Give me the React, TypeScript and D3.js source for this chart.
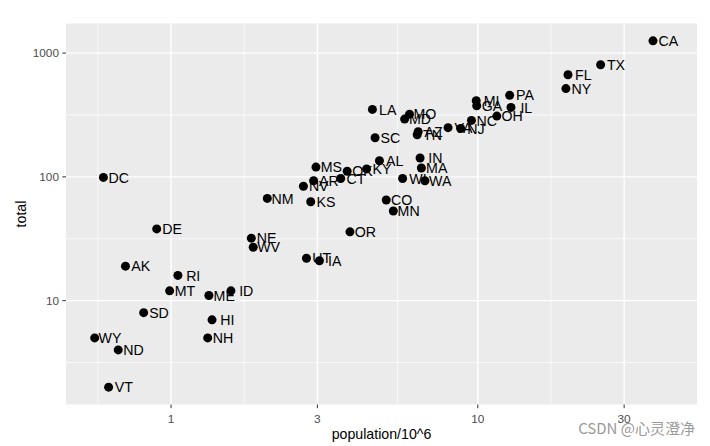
import React from "react";
import * as d3 from "d3";

const abb = ["AL","AK","AZ","AR","CA","CO","CT","DE","DC","FL","GA","HI","ID","IL","IN","IA","KS","KY","LA","ME","MD","MA","MI","MN","MS","MO","MT","NE","NV","NH","NJ","NM","NY","NC","ND","OH","OK","OR","PA","RI","SC","SD","TN","TX","UT","VT","VA","WA","WV","WI","WY"];
const population = [4779736,710231,6392017,2915918,37253956,5029196,3574097,897934,601723,19687653,9920000,1360301,1567582,12830632,6483802,3046355,2853118,4339367,4533372,1328361,5773552,6547629,9883640,5303925,2967297,5988927,989415,1826341,2700551,1316470,8791894,2059179,19378102,9535483,672591,11536504,3751351,3831074,12702379,1052567,4625364,814180,6346105,25145561,2763885,625741,8001024,6724540,1852994,5686986,563626];
const total = [135,19,232,93,1257,65,97,38,99,669,376,7,12,364,142,21,63,116,351,11,293,118,413,53,120,321,12,32,84,5,246,67,517,286,4,310,111,36,457,16,207,8,219,805,22,2,250,93,27,97,5];

const xBreaks = [1, 3, 10, 30];
const yBreaks = [10, 100, 1000];

const W = 710, H = 446;
const L = 66, R = 697, T = 23.5, B = 404.5;
const nudge = 0.05;

export default function App() {
  const px = population.map((p) => p / 1e6);
  const lx = px.map((v) => Math.log10(v));
  const ly = total.map((v) => Math.log10(v));
  const xmin = d3.min(lx)!, xmax = d3.max(lx)! + nudge;
  const xe = (xmax - xmin) * 0.05;
  const ymin = d3.min(ly)!, ymax = d3.max(ly)!;
  const ye = (ymax - ymin) * 0.05;
  const x = d3.scaleLog().domain([Math.pow(10, xmin - xe), Math.pow(10, xmax + xe)]).range([L, R]);
  const y = d3.scaleLog().domain([Math.pow(10, ymin - ye), Math.pow(10, ymax + ye)]).range([B, T]);

  const xl = xBreaks.map((b) => Math.log10(b));
  const xMinor: number[] = [xl[0] - (xl[1] - xl[0]) / 2];
  for (let i = 0; i < xl.length - 1; i++) xMinor.push((xl[i] + xl[i + 1]) / 2);
  const yl = yBreaks.map((b) => Math.log10(b));
  const yMinor: number[] = [yl[0] - 0.5];
  for (let i = 0; i < yl.length - 1; i++) yMinor.push((yl[i] + yl[i + 1]) / 2);

  const font = "'Liberation Sans', Arial, sans-serif";
  return (
    <svg width={W} height={H} style={{ position: "absolute", left: 0, top: 0, background: "#fff" }} fontFamily={font}>
      <rect x={L} y={T} width={R - L} height={B - T} fill="#EBEBEB" />
      {xMinor.map((m, i) => (
        <line key={"xm" + i} x1={x(Math.pow(10, m))} x2={x(Math.pow(10, m))} y1={T} y2={B} stroke="#fff" strokeWidth={0.7} />
      ))}
      {yMinor.map((m, i) => (
        <line key={"ym" + i} x1={L} x2={R} y1={y(Math.pow(10, m))} y2={y(Math.pow(10, m))} stroke="#fff" strokeWidth={0.7} />
      ))}
      {xBreaks.map((b) => (
        <line key={"xM" + b} x1={x(b)} x2={x(b)} y1={T} y2={B} stroke="#fff" strokeWidth={1.4} />
      ))}
      {yBreaks.map((b) => (
        <line key={"yM" + b} x1={L} x2={R} y1={y(b)} y2={y(b)} stroke="#fff" strokeWidth={1.4} />
      ))}
      {px.map((v, i) => (
        <circle key={"p" + i} cx={x(v)} cy={y(total[i])} r={4.5} fill="#000" />
      ))}
      {px.map((v, i) => (
        <text key={"t" + i} x={x(Math.pow(10, Math.log10(v) + nudge))} y={y(total[i])} dy="0.36em" textAnchor="middle" fontSize={14.2} fill="#000">
          {abb[i]}
        </text>
      ))}
      {xBreaks.map((b) => (
        <g key={"xt" + b}>
          <line x1={x(b)} x2={x(b)} y1={B} y2={B + 3.7} stroke="#333" strokeWidth={1} />
          <text x={x(b)} y={B + 18.5} textAnchor="middle" fontSize={11.8} fill="#4D4D4D">{b}</text>
        </g>
      ))}
      {yBreaks.map((b) => (
        <g key={"yt" + b}>
          <line x1={L - 3.7} x2={L} y1={y(b)} y2={y(b)} stroke="#333" strokeWidth={1} />
          <text x={L - 7} y={y(b)} dy="0.36em" textAnchor="end" fontSize={11.8} fill="#4D4D4D">{b}</text>
        </g>
      ))}
      <text x={(L + R) / 2} y={439} textAnchor="middle" fontSize={14.2} fill="#000">population/10^6</text>
      <text transform={`translate(26,${(T + B) / 2}) rotate(-90)`} textAnchor="middle" fontSize={14.2} fill="#000">total</text>
      <text x={695} y={434} textAnchor="end" fontSize={15} fill="#9a9a9a" fontFamily="'Noto Sans CJK SC', 'Liberation Sans', sans-serif">CSDN @心灵澄净</text>
    </svg>
  );
}
